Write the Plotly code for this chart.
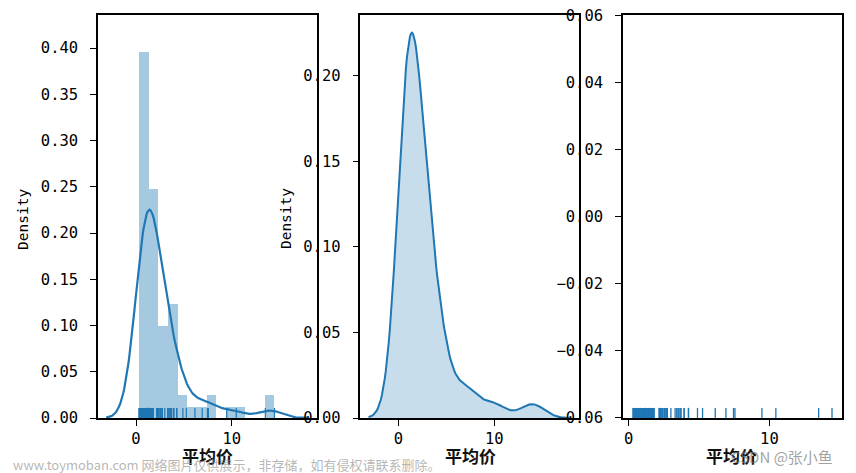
import numpy as np
import plotly.graph_objects as go

# ---- data: 平均价 sample values read from the rug / histogram ----
prices = [
    0.30, 0.35, 0.40, 0.45, 0.50, 0.50, 0.55, 0.60, 0.60, 0.65, 0.70, 0.70, 0.75, 0.80, 0.80, 0.85,
    0.90, 0.90, 0.95, 1.00, 1.00, 1.00, 1.05, 1.10, 1.10, 1.15, 1.20, 1.20, 1.25, 1.25, 1.30, 1.30,
    1.35, 1.40, 1.45, 1.50, 1.50, 1.55, 1.60, 1.60, 1.65, 1.70, 1.70, 1.75, 1.80, 1.80,
    2.15, 2.20, 2.20, 2.25, 2.30, 2.30,
    2.40, 2.50, 2.55, 2.60, 2.70, 2.75, 3.00, 3.30,
    3.43, 3.43, 3.57, 3.57, 3.71, 3.71, 3.94, 3.94, 4.25, 4.25,
    4.89, 5.25, 6.15, 6.91, 7.45, 7.55, 9.47, 10.46, 13.50, 14.45,
]
n_bins = 14
x_label = "平均价"
y_label = "Density"
watermark_1 = "www.toymoban.com 网络图片仅供展示，非存储，如有侵权请联系删除。"
watermark_2 = "CSDN @张小鱼"

data = np.array(prices)

# histogram (density) like seaborn distplot
counts, edges = np.histogram(data, bins=n_bins, density=True)
centers = (edges[:-1] + edges[1:]) / 2
widths = np.diff(edges)

# gaussian KDE, Scott's rule, cut = 3 bandwidths
n = len(data)
bw = np.std(data, ddof=1) * n ** (-1 / 5)
grid = np.linspace(data.min() - 3 * bw, data.max() + 3 * bw, 200)
z = (grid[:, None] - data[None, :]) / bw
kde = np.exp(-0.5 * z ** 2).sum(axis=1) / (n * bw * np.sqrt(2 * np.pi))

BLUE = "#1f77b4"

# axis ranges (as seen in picture)
R1X = [-3.97, 18.9]
R1Y = [0, 0.4357]
R2Y = [0, 0.2355]
R3X = [-0.41, 15.16]
R3Y = [-0.0601, 0.0601]
RUG = 0.025


def rug_xy(vals, y0, y1):
    xs, ys = [], []
    for v in vals:
        xs += [v, v, None]
        ys += [y0, y1, None]
    return xs, ys


fig = go.Figure()

# panel 1: hist + kde + rug
fig.add_trace(go.Bar(x=centers, y=counts, width=widths,
                     marker=dict(color="rgba(31,119,180,0.4)", line=dict(width=0)),
                     xaxis="x", yaxis="y", showlegend=False))
fig.add_trace(go.Scatter(x=grid, y=kde, mode="lines", line=dict(color=BLUE, width=2.2),
                         xaxis="x", yaxis="y", showlegend=False))
rx, ry = rug_xy(prices, 0, RUG * (R1Y[1] - R1Y[0]))
fig.add_trace(go.Scatter(x=rx, y=ry, mode="lines", line=dict(color=BLUE, width=1.2),
                         xaxis="x", yaxis="y", showlegend=False))

# panel 2: shaded kde
fig.add_trace(go.Scatter(x=grid, y=kde, mode="lines", fill="tozeroy", fillcolor="rgba(31,119,180,0.25)",
                         line=dict(color=BLUE, width=2), xaxis="x2", yaxis="y2", showlegend=False))

# panel 3: rug only
rx3, ry3 = rug_xy(prices, R3Y[0], R3Y[0] + RUG * (R3Y[1] - R3Y[0]))
fig.add_trace(go.Scatter(x=rx3, y=ry3, mode="lines", line=dict(color=BLUE, width=1.3),
                         xaxis="x3", yaxis="y3", showlegend=False))

# page has an 8px body margin; work in reference-pixel coordinates
OFF = 8
W, H = 856 - OFF, 473 - OFF
LEFT, RIGHT, TOP, BOTTOM = 98, 841.7, 15, 418      # plot-area bounds in reference px
ML, MR, MT, MB = LEFT - OFF, (W + OFF) - RIGHT, TOP - OFF, (H + OFF) - BOTTOM
PW = RIGHT - LEFT
PH = BOTTOM - TOP


def dom(a, b):
    return [(a - LEFT) / PW, (b - LEFT) / PW]


def px(x):
    return (x - LEFT) / PW


def py(y):
    return (BOTTOM - y) / PH


tickfont = dict(family="DejaVu Sans Mono", size=15.5, color="black")
common = dict(showline=True, linecolor="black", linewidth=1.5, mirror=True, ticks="outside", ticklen=6,
              tickwidth=1.2, tickcolor="black", showgrid=False, zeroline=False, tickfont=tickfont,
              ticklabeloverflow="allow", fixedrange=True)

fig.update_layout(
    width=W, height=H, margin=dict(l=ML, r=MR, t=MT, b=MB, autoexpand=False),
    plot_bgcolor="white", paper_bgcolor="white", bargap=0,
    xaxis=dict(domain=dom(98, 317), range=R1X, tick0=0, dtick=10, anchor="y", **common),
    yaxis=dict(domain=[0, 1], range=R1Y, tick0=0, dtick=0.05, tickformat=".2f", anchor="x",
               ticklabelstandoff=9, **common),
    xaxis2=dict(domain=dom(360.3, 579.3), range=R1X, tick0=0, dtick=10, anchor="y2", **common),
    yaxis2=dict(domain=[0, 1], range=R2Y, tick0=0, dtick=0.05, tickformat=".2f", anchor="x2",
                ticklabelstandoff=9, **common),
    xaxis3=dict(domain=dom(622.7, 841.7), range=R3X, tick0=0, dtick=10, anchor="y3", **common),
    yaxis3=dict(domain=[0, 1], range=R3Y, tick0=0, dtick=0.02, tickformat=".2f", anchor="x3",
                ticklabelstandoff=9, **common),
)

ann = []
lab_font = dict(family="Noto Sans CJK SC", size=17, color="#111")
for cx in (207.5, 470.5, 731):
    ann.append(dict(text="<b>" + x_label + "</b>", x=px(cx), y=py(455), xref="paper", yref="paper",
                    showarrow=False, font=lab_font, xanchor="center", yanchor="middle"))
for cx in (23, 286):
    ann.append(dict(text=y_label, x=px(cx), y=py(219), xref="paper", yref="paper", textangle=-90,
                    showarrow=False, font=dict(family="DejaVu Sans Mono", size=14.5, color="black"),
                    xanchor="center", yanchor="middle"))
# watermarks
ann.append(dict(text=watermark_1, x=px(11), y=py(464), xref="paper", yref="paper", showarrow=False,
                xanchor="left", yanchor="middle",
                font=dict(family="Noto Sans CJK SC", size=13, color="rgba(150,150,150,0.7)")))
ann.append(dict(text=watermark_2, x=px(835), y=py(456), xref="paper", yref="paper", showarrow=False,
                xanchor="right", yanchor="middle",
                font=dict(family="Noto Sans CJK SC", size=15, color="rgba(120,120,120,0.7)")))
fig.update_layout(annotations=ann)

fig.write_html("out.html")
